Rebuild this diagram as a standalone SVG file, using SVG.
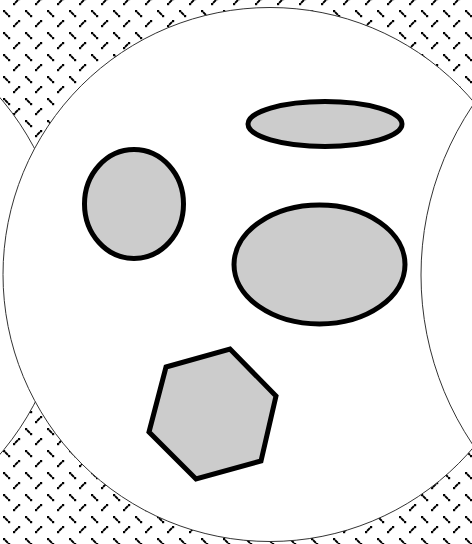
<svg xmlns="http://www.w3.org/2000/svg" width="472" height="544" viewBox="0 0 472 544">
  <style>
    .circ { fill: #ffffff; stroke: #333333; stroke-width: 1; }
    .blob { fill: #cccccc; stroke: #000000; stroke-width: 5; stroke-linejoin: miter; }
  </style>
  <defs>
    <pattern id="dots" patternUnits="userSpaceOnUse" x="0" y="8" width="22" height="22">
      <rect x="3" y="2" width="2.2" height="2.2" fill="#000"/>
      <line x1="5" y1="4" x2="8" y2="7" stroke="#000" stroke-width="1.8"/>
      <rect x="8" y="7" width="2.2" height="2.2" fill="#000"/>
      <rect x="13" y="17" width="2.2" height="2.2" fill="#000"/>
      <line x1="15" y1="17" x2="18" y2="14" stroke="#000" stroke-width="1.8"/>
      <rect x="18" y="12" width="2.2" height="2.2" fill="#000"/>
    </pattern>
  </defs>
  <rect id="background" x="0" y="0" width="472" height="544" fill="#ffffff"/>
  <rect id="hatch" x="0" y="0" width="472" height="544" fill="url(#dots)"/>
  <g id="left-circle"><circle class="circ" cx="-208" cy="276" r="274"/></g>
  <g id="main-circle"><circle class="circ" cx="270" cy="274.5" r="267"/></g>
  <g id="right-circle"><circle class="circ" cx="725" cy="275" r="304"/></g>
  <g id="ellipse-top"><ellipse class="blob" cx="325" cy="124" rx="77" ry="22.5"/></g>
  <g id="ellipse-left"><ellipse class="blob" cx="134" cy="204" rx="49.5" ry="54.5"/></g>
  <g id="ellipse-middle"><ellipse class="blob" cx="319.5" cy="264.5" rx="85.5" ry="59.5"/></g>
  <g id="hexagon"><polygon class="blob" points="166,367 230,349 276,396 261,461 196,479 149,432"/></g>
</svg>
